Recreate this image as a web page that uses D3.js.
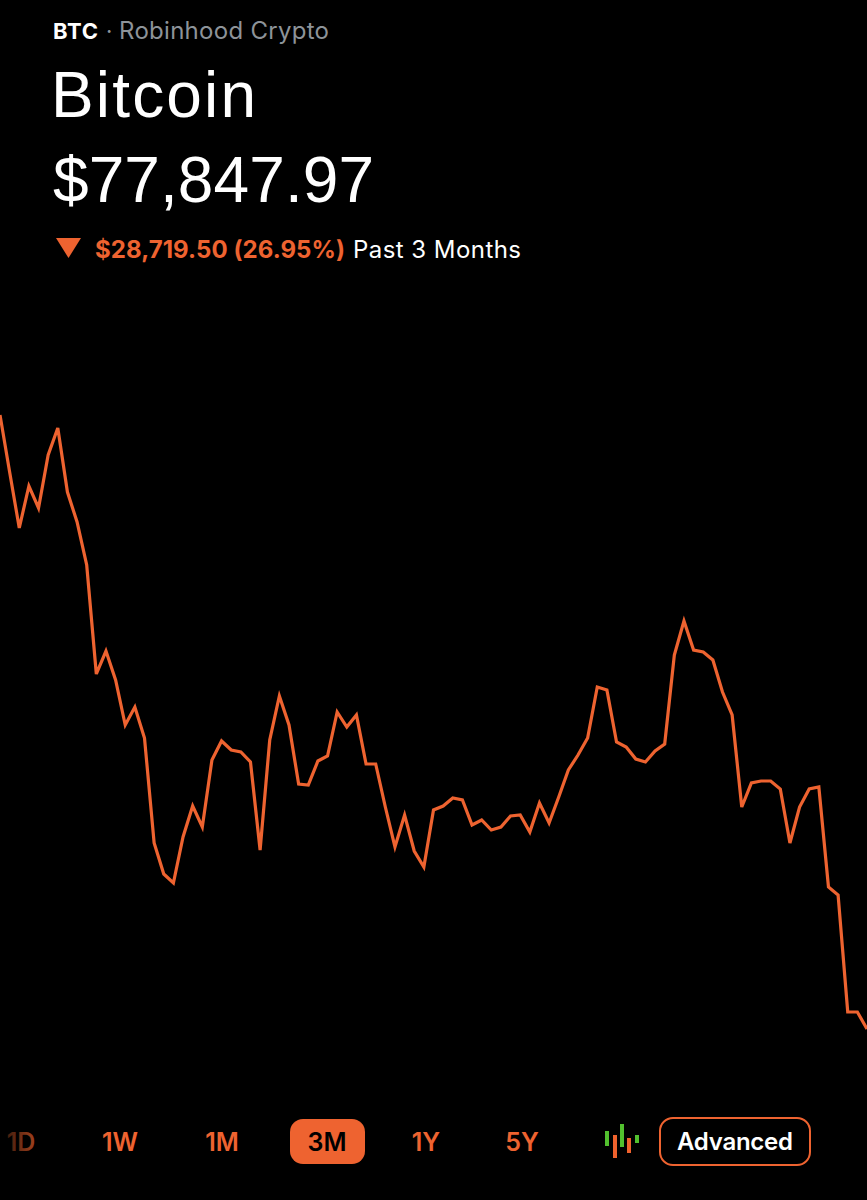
<!DOCTYPE html>
<html><head><meta charset="utf-8">
<script src="https://cdn.jsdelivr.net/npm/d3@7/dist/d3.min.js"></script>
<style>html,body{margin:0;padding:0;background:#000}svg{display:block}text{font-family:Inter,"Noto Sans",sans-serif}</style>
</head><body><div id="chart"></div>
<script>
const prices = [106567,103901,101282,103246,102217,104696,105959,102965,101562,99551,
94453,95528,94172,92067,92909,91459,86548,85098,84677,86828,
88278,87296,90430,91319,90898,90804,90336,86220,91365,93424,
92067,89307,89261,90383,90617,92675,91974,92535,90243,90243,
88232,86361,87857,86174,85425,88091,88278,88653,88559,87390,
87624,87156,87296,87811,87857,87062,88419,87483,88699,89962,
90664,91459,93844,93704,91272,91038,90477,90336,90851,91178,
95341,96932,95575,95482,95107,93611,92535,88232,89354,89448,
89448,89074,86548,88232,89074,89167,84490,84115,78643,78643,77848];
const ranges = ["1D","1W","1M","3M","1Y","5Y"];
const rangeCentres = [21,120,222,327,426,522];
const activeRange = "3M";
const candles = [
 {x:607,lo:1146,hi:1131,c:"#52c02e"},{x:615,lo:1158,hi:1135,c:"#f0622d"},
 {x:622,lo:1147,hi:1124,c:"#52c02e"},{x:629,lo:1153,hi:1138,c:"#f0622d"},
 {x:637,lo:1143,hi:1135,c:"#52c02e"}];
const ORANGE="#ee6330";
const svg=d3.select("#chart").append("svg").attr("width",867).attr("height",1200);
svg.append("rect").attr("width",867).attr("height",1200).attr("fill","#000");

const x=d3.scaleLinear().domain([0,prices.length-1]).range([0,867]);
const y=d3.scaleLinear().domain([d3.min(prices),d3.max(prices)]).range([1029,415]);
const line=d3.line().x((d,i)=>x(i)).y(d=>y(d)).curve(d3.curveLinear);
svg.append("path").datum(prices).attr("d",line).attr("fill","none")
 .attr("stroke",ORANGE).attr("stroke-width",3.2).attr("stroke-linejoin","miter");

function fit(sel,w){const n=sel.node();const l=n.getComputedTextLength();const c=(n.textContent.length-1)||1;sel.attr("letter-spacing",((w-l)/c).toFixed(3));return sel;}
const t=(txt,xp,yp,fs,fw,col)=>svg.append("text").text(txt).attr("x",xp).attr("y",yp).attr("font-size",fs).attr("font-weight",fw).attr("fill",col);

fit(t("BTC",53,39,22,700,"#fff"),45);
t("·",106,39,22,400,"#8d9399");
fit(t("Robinhood Crypto",119,39,24,400,"#8d9399"),210);
fit(t("Bitcoin",51,117,64,400,"#fff").style("font-family","'Liberation Sans',Inter,sans-serif"),205);
fit(t("$77,847.97",53,202,64,400,"#fff").style("font-family","'Liberation Sans',Inter,sans-serif"),321);
svg.append("path").attr("d","M56,238L81,238L68.5,258Z").attr("fill",ORANGE);
fit(t("$28,719.50 (26.95%)",95,258,24,700,ORANGE),250);
fit(t("Past 3 Months",353,258,24,400,"#fff"),168);

const defs=svg.append("defs");
const g=defs.append("linearGradient").attr("id","fade").attr("gradientUnits","userSpaceOnUse")
 .attr("x1",4).attr("x2",38).attr("y1",0).attr("y2",0);
g.append("stop").attr("offset",0).attr("stop-color","#3a1a0c");
g.append("stop").attr("offset",1).attr("stop-color","#a8441f");

svg.append("rect").attr("x",290).attr("y",1119).attr("width",75).attr("height",45).attr("rx",13).attr("fill",ORANGE);
ranges.forEach((r,i)=>{
 t(r,rangeCentres[i],1151,25,600,r===activeRange?"#000":(r==="1D"?"url(#fade)":ORANGE)).attr("text-anchor","middle");
});
svg.selectAll("rect.c").data(candles).enter().append("rect").attr("class","c")
 .attr("x",d=>d.x-2).attr("width",4).attr("y",d=>d.hi).attr("height",d=>d.lo-d.hi).attr("fill",d=>d.c);
svg.append("rect").attr("x",660).attr("y",1118).attr("width",150).attr("height",47).attr("rx",13)
 .attr("fill","#000").attr("stroke",ORANGE).attr("stroke-width",2);
fit(t("Advanced",677,1150,24,600,"#fff"),116);
</script></body></html>
